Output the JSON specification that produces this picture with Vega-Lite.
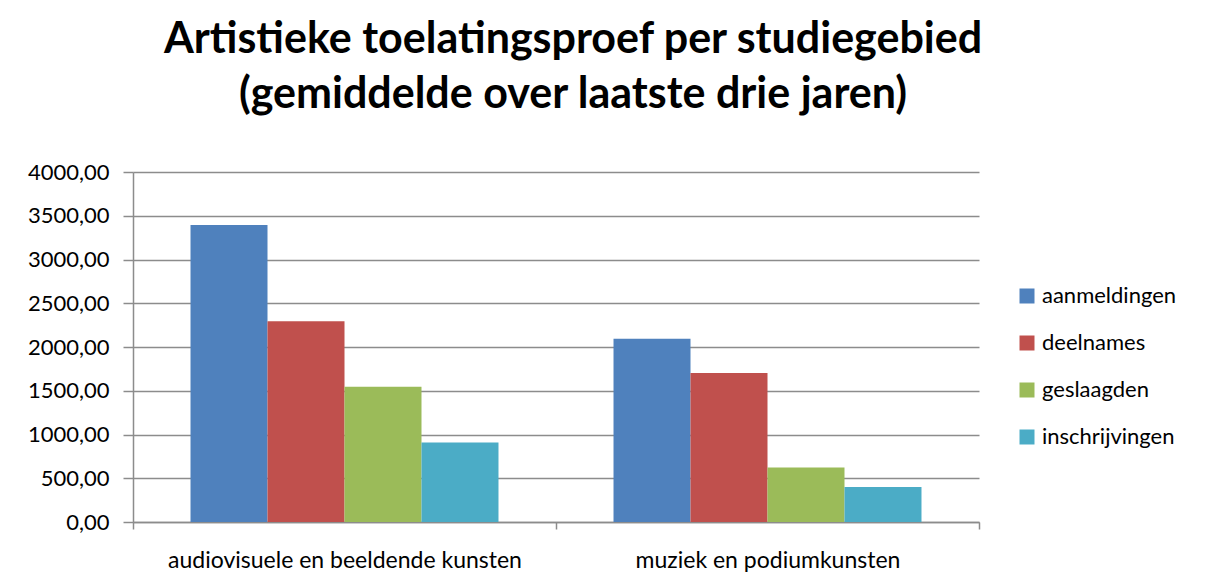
{
  "$schema": "https://vega.github.io/schema/vega-lite/v6.json",
  "autosize": {"type": "none"},
  "width": 846,
  "height": 350,
  "padding": {"left": 133, "top": 172, "right": 233, "bottom": 61},
  "background": "white",
  "title": {
    "text": ["Artistieke toelatingsproef per studiegebied", "(gemiddelde over laatste drie jaren)"],
    "anchor": "middle",
    "dx": 17,
    "offset": 44,
    "font": "Lato",
    "fontWeight": "bold",
    "fontSize": 43,
    "lineHeight": 55,
    "color": "#000000"
  },
  "data": {
    "values": [
      {"gebied": "audiovisuele en beeldende kunsten", "reeks": "aanmeldingen", "waarde": 3394},
      {"gebied": "audiovisuele en beeldende kunsten", "reeks": "deelnames", "waarde": 2293},
      {"gebied": "audiovisuele en beeldende kunsten", "reeks": "geslaagden", "waarde": 1546},
      {"gebied": "audiovisuele en beeldende kunsten", "reeks": "inschrijvingen", "waarde": 910},
      {"gebied": "muziek en podiumkunsten", "reeks": "aanmeldingen", "waarde": 2095},
      {"gebied": "muziek en podiumkunsten", "reeks": "deelnames", "waarde": 1703},
      {"gebied": "muziek en podiumkunsten", "reeks": "geslaagden", "waarde": 624},
      {"gebied": "muziek en podiumkunsten", "reeks": "inschrijvingen", "waarde": 400}
    ]
  },
  "mark": {"type": "bar"},
  "encoding": {
    "x": {
      "field": "gebied",
      "type": "nominal",
      "sort": null,
      "scale": {"paddingInner": 0, "paddingOuter": 0},
      "axis": {
        "title": null,
        "labelAngle": 0,
        "labelFont": "Lato",
        "labelFontSize": 23,
        "labelLimit": 0,
        "labelColor": "#000000",
        "labelBaseline": "alphabetic",
        "labelPadding": 38,
        "tickBand": "extent",
        "tickSize": 7,
        "tickColor": "#8c8c8c",
        "tickWidth": 1.5,
        "domainColor": "#8c8c8c",
        "domainWidth": 1.5,
        "grid": false
      }
    },
    "xOffset": {
      "field": "reeks",
      "type": "nominal",
      "scale": {"paddingInner": 0, "paddingOuter": 0.747}
    },
    "y": {
      "field": "waarde",
      "type": "quantitative",
      "scale": {"domain": [0, 4000], "nice": false},
      "axis": {
        "title": null,
        "values": [0, 500, 1000, 1500, 2000, 2500, 3000, 3500, 4000],
        "labelExpr": "replace(format(datum.value, '.2f'), '.', ',')",
        "labelFont": "Lato",
        "labelFontSize": 22,
        "labelColor": "#000000",
        "labelPadding": 14,
        "tickSize": 10,
        "tickColor": "#8c8c8c",
        "tickWidth": 1.5,
        "domainColor": "#8c8c8c",
        "domainWidth": 1.5,
        "grid": true,
        "gridColor": "#8c8c8c",
        "gridWidth": 1.5
      }
    },
    "color": {
      "field": "reeks",
      "type": "nominal",
      "scale": {
        "domain": ["aanmeldingen", "deelnames", "geslaagden", "inschrijvingen"],
        "range": ["#4F81BD", "#C0504D", "#9BBB59", "#4BACC6"]
      },
      "legend": {
        "title": null,
        "orient": "none",
        "legendX": 883,
        "legendY": 113,
        "symbolType": "square",
        "symbolSize": 225,
        "symbolStrokeWidth": 0,
        "symbolOpacity": 1,
        "labelFont": "Lato",
        "labelFontSize": 22,
        "labelLimit": 0,
        "labelColor": "#000000",
        "labelOffset": 4,
        "rowPadding": 25
      }
    }
  },
  "config": {
    "view": {"stroke": null}
  }
}
